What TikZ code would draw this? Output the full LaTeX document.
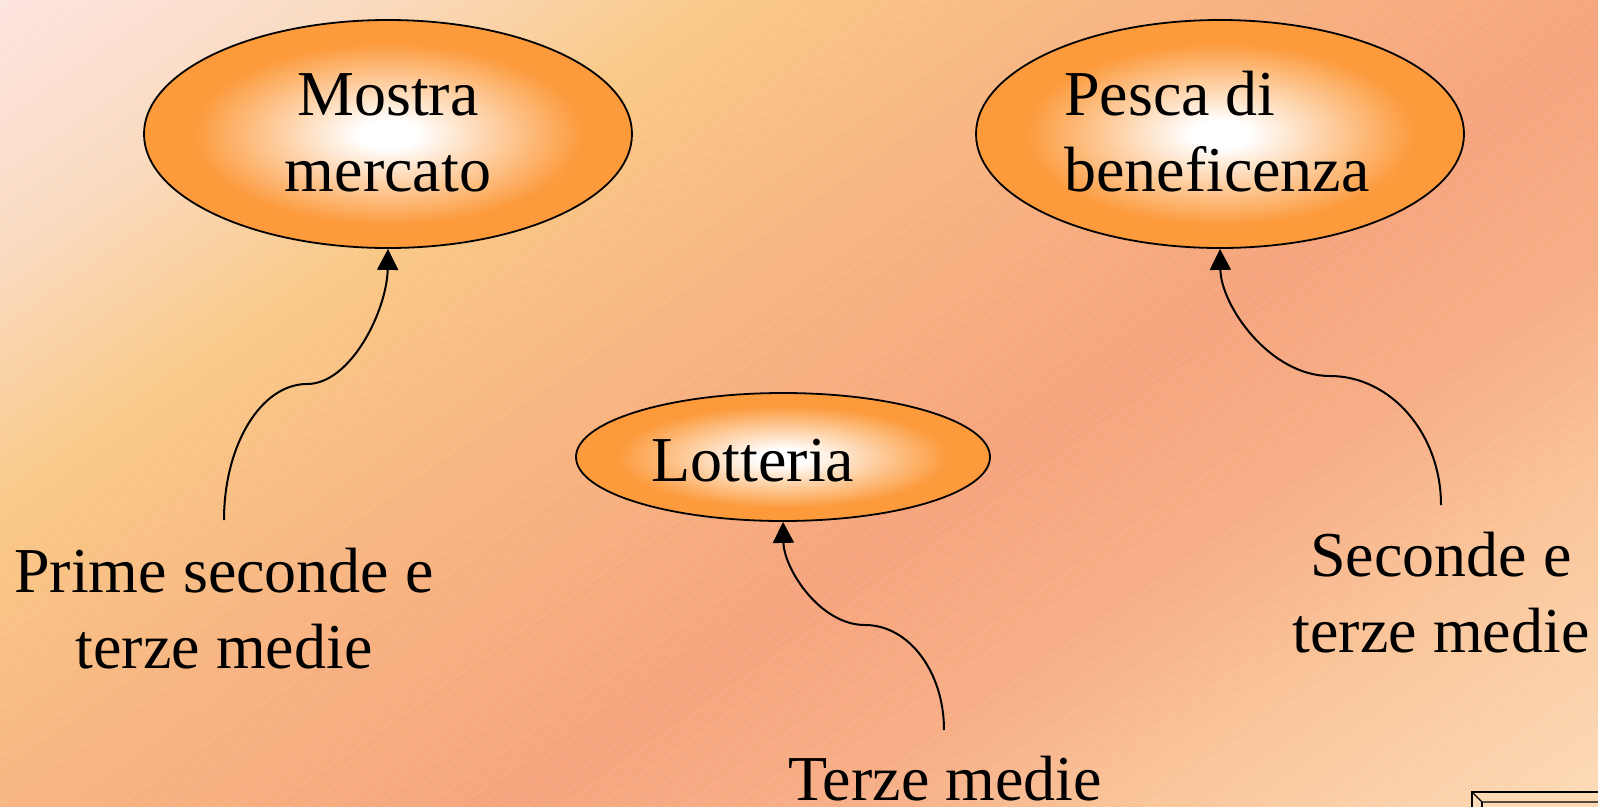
\documentclass[tikz,border=0pt]{standalone}
\usepackage{fontspec}
\setmainfont{Liberation Serif}
\usetikzlibrary{shapes.geometric,arrows.meta}
\definecolor{bgA}{HTML}{FDE5E0}
\definecolor{bgB}{HTML}{FADBC2}
\definecolor{bgC}{HTML}{F9C987}
\definecolor{bgD}{HTML}{F8B682}
\definecolor{bgE}{HTML}{F6A57E}
\definecolor{bgF}{HTML}{F7AF87}
\definecolor{bgG}{HTML}{FAC398}
\definecolor{bgH}{HTML}{FCDCB8}
\definecolor{ellorange}{HTML}{FC9A3C}
\definecolor{boxfill}{HTML}{FDD9B4}
\pgfdeclarehorizontalshading{bgshade}{100bp}{color(0bp)=(bgA); color(25.3bp)=(bgA); color(31.6bp)=(bgB); color(38.4bp)=(bgC); color(45.6bp)=(bgD); color(55bp)=(bgE); color(61.2bp)=(bgF); color(65.9bp)=(bgG); color(75bp)=(bgH); color(100bp)=(bgH)}
\pgfdeclareradialshading{ellshade}{\pgfpoint{0bp}{0bp}}{color(0bp)=(white); color(3bp)=(white); color(20bp)=(ellorange); color(25bp)=(ellorange); color(50bp)=(ellorange)}
\tikzset{
  ell/.style={ellipse, draw=black, line width=1.8pt, shade, shading=ellshade, inner sep=0pt},
  lbl/.style={inner sep=0pt, font=\fontsize{64}{76}\selectfont},
  conn/.style={draw=black, line width=2pt, -{Triangle[length=21pt,width=21pt]}}
}
\begin{document}
\begin{tikzpicture}[x=1pt,y=-1pt]
\useasboundingbox (0,0) rectangle (1598,806);
\begin{scope}
  \clip (0,0) rectangle (1598,806);
  \begin{scope}[transform canvas={rotate=-54.8}]
    \shade[shading=bgshade, overlay] (-10,-2500) rectangle (1590,2500);
  \end{scope}
  \foreach \c in {0,12,...,1932}
    \draw[white, opacity=0.15, line width=0.5pt] (0,\c) -- (1598,\c-1118.6);
\end{scope}

% bottom-right box
\fill[boxfill] (1472,792) rectangle (1600,810);
\draw[line width=2pt] (1600,792) -- (1472,792) -- (1472,810);
\draw[line width=1.2pt] (1472,792) -- (1482,802) -- (1600,802);
\draw[line width=1.2pt] (1482,802) -- (1482,810);

% ellipses
\node[ell, minimum width=488pt, minimum height=228pt] (mostra) at (388,134) {};
\node[ell, minimum width=488pt, minimum height=228pt] (pesca) at (1220,134) {};
\node[ell, minimum width=414pt, minimum height=128pt] (lott) at (783,457) {};

% texts
\node[lbl, anchor=base] (mostraT) at (388,191) {\begin{tabular}[b]{@{}c@{}}Mostra\\mercato\end{tabular}};
\node[lbl, anchor=base west] (pescaT) at (1064,191) {\begin{tabular}[b]{@{}l@{}}Pesca di\\beneficenza\end{tabular}};
\node[lbl, anchor=base] (lottT) at (753,481) {Lotteria};
\node[lbl, anchor=base] (primeT) at (224,668) {\begin{tabular}[b]{@{}c@{}}Prime seconde e\\terze medie\end{tabular}};
\node[lbl, anchor=base] (secT) at (1441,652) {\begin{tabular}[b]{@{}c@{}}Seconde e\\terze medie\end{tabular}};
\node[lbl, anchor=base] (terzeT) at (945,800) {Terze medie};

% connectors
\coordinate (s1) at (224,520);
\coordinate (s2) at (1441,505);
\coordinate (s3) at (944,730);
\draw[conn] (s1) .. controls (224,445) and (261,384) .. (307,384) .. controls (351,384) and (387,310) .. (mostra.south);
\draw[conn] (s2) .. controls (1441,434) and (1391,376) .. (1330,376) .. controls (1270,376) and (1221,306) .. (pesca.south);
\draw[conn] (s3) .. controls (944,672) and (909,625) .. (865,625) .. controls (820,625) and (784,569) .. (lott.south);
\end{tikzpicture}
\end{document}
